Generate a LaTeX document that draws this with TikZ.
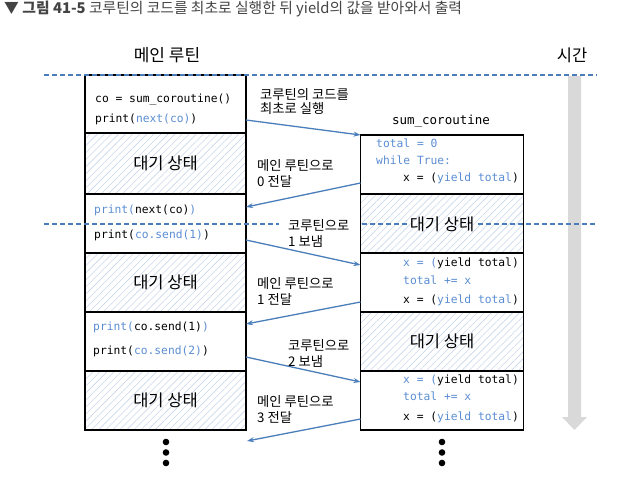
\documentclass[tikz,border=0pt]{standalone}
\usepackage{fontspec}
\setmainfont{Noto Sans CJK KR}
\setmonofont{DejaVu Sans Mono}
\usepackage{xcolor}
\usetikzlibrary{positioning, patterns.meta, arrows.meta}

\definecolor{lineblue}{HTML}{4A7EBB}
\definecolor{codeblue}{HTML}{5B8DD3}
\definecolor{hatchblue}{HTML}{C9D6EA}
\definecolor{timegray}{HTML}{D9D9D9}
\definecolor{titlegray}{HTML}{444444}
\newcommand{\cb}[1]{\textcolor{codeblue}{#1}}

\tikzset{
	blk/.style={draw, line width=1.6bp, minimum width=161bp, inner sep=0pt, outer sep=0pt},
	waitblk/.style={blk, pattern={Lines[angle=45, distance=5bp, line width=0.6bp]}, pattern color=hatchblue,
		font=\fontsize{16.5bp}{18bp}\selectfont},
	code/.style={anchor=west, inner sep=0pt, text height=8.5bp, text depth=2.5bp,
		font=\ttfamily\fontsize{11.3bp}{13bp}\selectfont},
	lbl/.style={anchor=west, align=left, inner sep=0pt, font=\fontsize{13.3bp}{16bp}\selectfont},
	flow/.style={->, lineblue, line width=1.3bp},
	timeline/.style={lineblue, dash pattern=on 5bp off 3bp, line width=1.5bp},
}

\begin{document}
\begin{tikzpicture}[x=1bp, y={(0bp,-1bp)}, > = {Stealth[length=7bp, width=5bp]}]
	\useasboundingbox (0,0) rectangle (636,493);
	
	% title
	\node [anchor=west, inner sep=0pt, text=titlegray, font=\fontsize{14.8bp}{16bp}\selectfont] (title) at (4,9)
	{\textbf{▼ 그림 41-5} 코루틴의 코드를 최초로 실행한 뒤 yield의 값을 받아와서 출력};
	
	\node [font=\fontsize{17bp}{18bp}\selectfont] (mainhead) at (167,55) {메인 루틴};
	\node [font=\fontsize{16.5bp}{18bp}\selectfont] (timehead) at (572,55) {시간};
	\node [font=\ttfamily\fontsize{12.5bp}{14bp}\selectfont] (cohead) at (441,121) {sum\_coroutine};
	
	% time arrow
	\fill [timegray] (568,76) -- (581,76) -- (581,417) -- (587,417) -- (574.5,430)
	-- (562,417) -- (568,417) -- cycle;
	
	% main routine
	\node [blk, minimum height=58bp] (m1) at (165.5,104) {};
	\node [waitblk, minimum height=61bp, below=0pt of m1] (m2) {대기 상태};
	\node [blk, minimum height=59bp, below=0pt of m2] (m3) {};
	\node [waitblk, minimum height=59bp, below=0pt of m3] (m4) {대기 상태};
	\node [blk, minimum height=59bp, below=0pt of m4] (m5) {};
	\node [waitblk, minimum height=59bp, below=0pt of m5] (m6) {대기 상태};
	
	\node [code] (m1a) at (95,100) {co = sum\_coroutine()};
	\node [code] (m1b) at (95,120) {print(\cb{next(co)})};
	\node [code] (m3a) at (94,211) {\cb{print(}next(co)\cb{)}};
	\node [code] (m3b) at (94,236) {print(\cb{co.send(1)})};
	\node [code] (m5a) at (93,327) {\cb{print(}co.send(1)\cb{)}};
	\node [code] (m5b) at (93,351) {print(\cb{co.send(2)})};
	
	% coroutine
	\node [blk, minimum width=163bp, minimum height=59bp] (s1) at (442,164.5) {};
	\node [waitblk, minimum width=163bp, minimum height=59bp, below=0pt of s1] (s2) {};
	\node [blk, minimum width=163bp, minimum height=59bp, below=0pt of s2] (s3) {};
	\node [waitblk, minimum width=163bp, minimum height=59bp, below=0pt of s3] (s4) {대기 상태};
	\node [blk, minimum width=163bp, minimum height=59bp, below=0pt of s4] (s5) {};
	
	\node [code] (s1a) at (376,145) {\cb{total = 0}};
	\node [code] (s1b) at (376,162) {\cb{while True:}};
	\node [code] (s1c) at (403,179) {x = (\cb{yield total})};
	\node [code] (s3a) at (403,263) {\cb{x = (}yield total)};
	\node [code] (s3b) at (403,281) {\cb{total += x}};
	\node [code] (s3c) at (403,300) {x = (\cb{yield total})};
	\node [code] (s5a) at (403,380) {\cb{x = (}yield total)};
	\node [code] (s5b) at (403,397) {\cb{total += x}};
	\node [code] (s5c) at (403,417) {x = (\cb{yield total})};
	
	% time lines
	\draw [timeline] (44,75) -- (597,75);
	\draw [timeline] (44,224) -- (279,224);
	\draw [timeline] (362,224) -- (407,224);
	\draw [timeline] (478,224) -- (597,224);
	\node [font=\fontsize{16.5bp}{18bp}\selectfont] (s2t) at (442,224) {대기 상태};
	
	% hand over
	\coordinate (last) at (247,441);
	\draw [flow] ([yshift=-16bp]m1.east) -- (s1.north west);
	\draw [flow] ([yshift=-18.5bp]s1.west) -- ([yshift=16.5bp]m3.east);
	\draw [flow] ([yshift=-16.5bp]m3.east) -- ([yshift=17.5bp]s3.west);
	\draw [flow] ([yshift=-19.5bp]s3.west) -- ([yshift=17.5bp]m5.east);
	\draw [flow] ([yshift=-15.5bp]m5.east) -- ([yshift=18.5bp]s5.west);
	\draw [flow] ([yshift=-18.5bp]s5.west) -- (last);
	
	\node [lbl, font=\fontsize{13.3bp}{14bp}\selectfont] (l1) at (260,102) {코루틴의 코드를\\최초로 실행};
	\node [lbl] (l2) at (257,173) {메인 루틴으로\\0 전달};
	\node [lbl] (l3) at (288,233) {코루틴으로\\1 보냄};
	\node [lbl] (l4) at (257,291) {메인 루틴으로\\1 전달};
	\node [lbl] (l5) at (288,353) {코루틴으로\\2 보냄};
	\node [lbl] (l6) at (257,409) {메인 루틴으로\\3 전달};
	
	\foreach \y in {442, 452.5, 463} {
		\fill (166,\y) circle (3.3bp);
		\fill (442,\y) circle (3.3bp);
	}
\end{tikzpicture}
\end{document}
